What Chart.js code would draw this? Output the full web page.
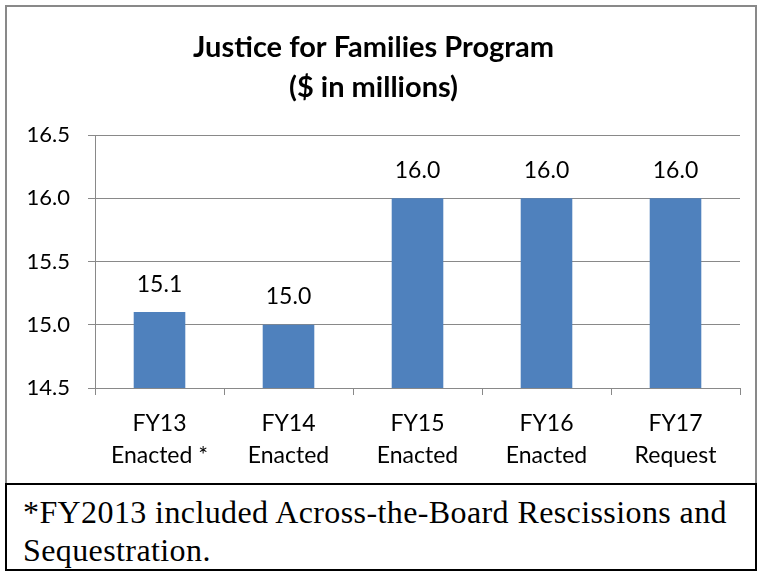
<!DOCTYPE html>
<html>
<head>
<meta charset="utf-8">
<script src="https://cdn.jsdelivr.net/npm/chart.js@4.4.1/dist/chart.umd.min.js"></script>
<style>
  body { margin: 0; background: #fff; }
  #box { position: absolute; left: 5px; top: 5px; width: 748px; height: 476px; border: 2px solid #898989; }
  #note { position: absolute; left: 5px; top: 483px; width: 732px; height: 76px; border: 2px solid #000;
          font-family: "Liberation Serif", "Times New Roman", serif; font-size: 32px; line-height: 38px;
          letter-spacing: 0.4px; padding: 8px 0 0 16px; white-space: nowrap; }
</style>
</head>
<body>
<div id="box"><canvas id="myBarChart" width="748" height="476"></canvas></div>
<div id="note">*FY2013 included Across-the-Board Rescissions and<br>Sequestration.</div>
<script>
var categories = [['FY13', 'Enacted *'], ['FY14', 'Enacted'], ['FY15', 'Enacted'], ['FY16', 'Enacted'], ['FY17', 'Request']];
var funding = [15.1, 15.0, 16.0, 16.0, 16.0];
var yTicks = [14.5, 15.0, 15.5, 16.0, 16.5];

// labels over each bar
var barLabels = {
	id: 'barLabels',
	afterDatasetsDraw: function(chart) {
		var ctx = chart.ctx;
		var meta = chart.getDatasetMeta(0);
		ctx.save();
		ctx.font = '23px Lato, sans-serif';
		ctx.fillStyle = '#000';
		ctx.textAlign = 'center';
		ctx.textBaseline = 'middle';
		meta.data.forEach(function(bar, i) {
			ctx.fillText(funding[i].toFixed(1), bar.x, bar.y - 28);
		});
		ctx.restore();
	}
};

var ctx = document.getElementById('myBarChart');
var myBarChart = new Chart(ctx, {
	type: 'bar',
	data: {
		labels: categories,
		datasets: [{
			data: funding,
			backgroundColor: '#4F81BD',
			barPercentage: 0.4,
			categoryPercentage: 1.0
		}]
	},
	plugins: [barLabels],
	options: {
		responsive: false,
		animation: false,
		layout: { padding: { left: 0, right: 15, top: 0, bottom: 0 } },
		plugins: {
			legend: { display: false },
			tooltip: { enabled: false },
			title: {
				display: true,
				text: ['Justice for Families Program', '($ in millions)'],
				color: '#000',
				font: { family: 'Lato, sans-serif', size: 29, weight: 'bold', lineHeight: 40 / 29 },
				padding: { top: 21, bottom: 27 }
			}
		},
		scales: {
			x: {
				grid: { drawOnChartArea: false, drawTicks: true, tickLength: 7, color: '#898989' },
				border: { color: '#898989' },
				ticks: { color: '#000', font: { family: 'Lato, sans-serif', size: 23, lineHeight: 32 / 23 }, padding: 13, maxRotation: 0 },
				afterFit: function(s) { s.height = 95; }
			},
			y: {
				min: 14.5,
				max: 16.5,
				afterBuildTicks: function(s) { s.ticks = yTicks.map(function(v) { return { value: v }; }); },
				grid: { color: '#898989', tickLength: 7 },
				border: { color: '#898989' },
				ticks: {
					color: '#000',
					font: { family: 'Lato, sans-serif', size: 22 },
					padding: 18,
					callback: function(v) { return Number(v).toFixed(1); }
				},
				afterFit: function(s) { s.width = 88; }
			}
		}
	}
});
</script>
</body>
</html>
